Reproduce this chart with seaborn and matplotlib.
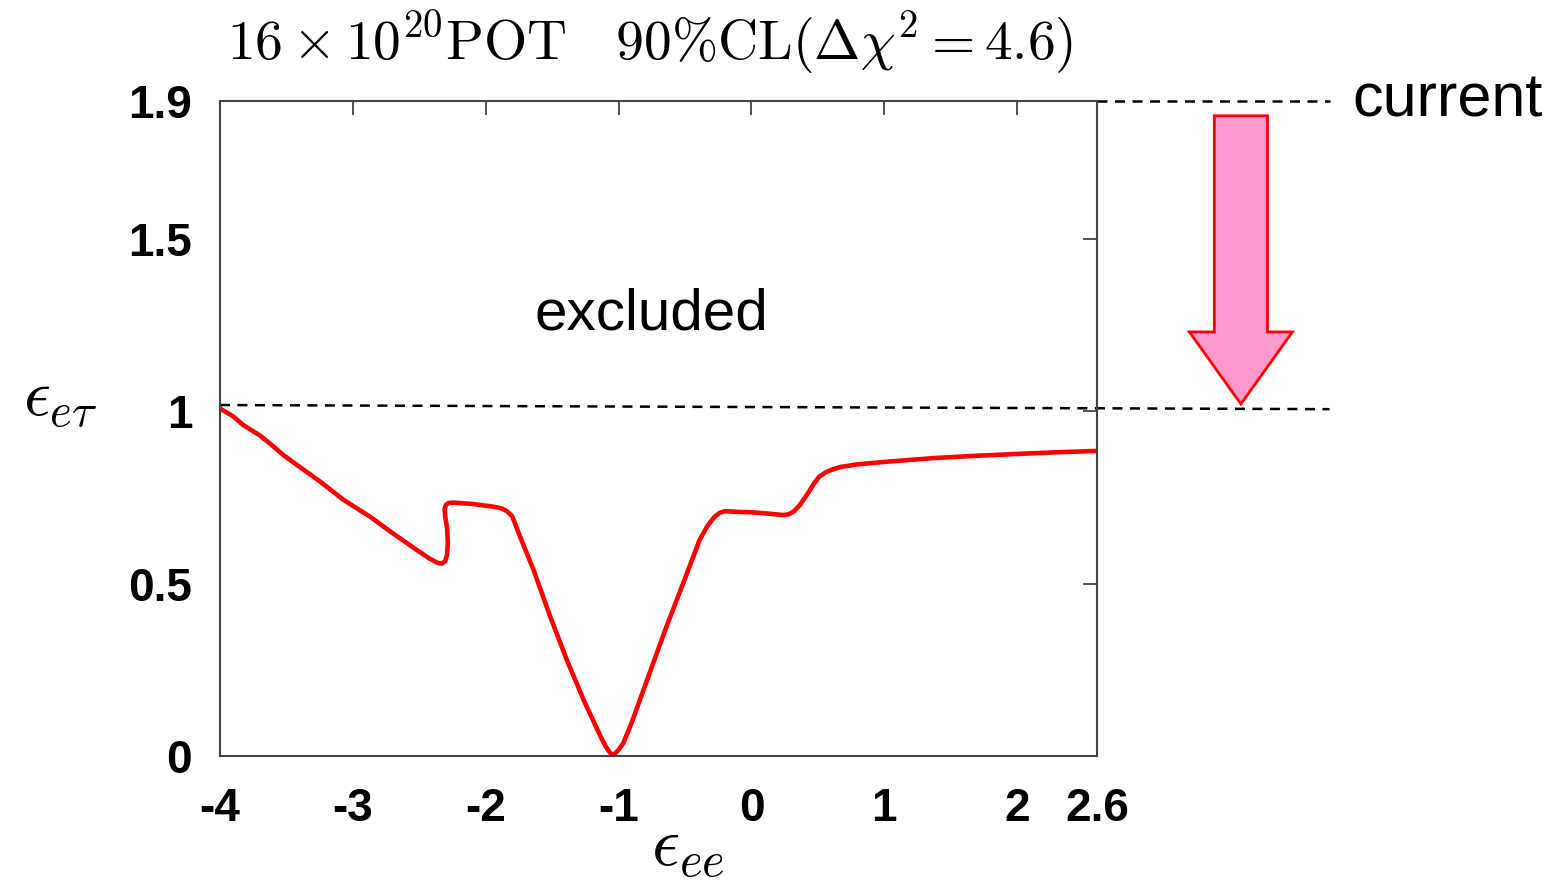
import matplotlib
matplotlib.use("Agg")
import matplotlib.pyplot as plt
import matplotlib.patches as mpatches
import seaborn as sns
import pandas as pd

# Contour (90% CL), in plotting order (the hook near -2.3 runs backwards)
eps_ee = [-4.0, -3.90, -3.825, -3.70, -3.61, -3.52, -3.42, -3.26, -3.16, -3.07,
          -2.87, -2.70, -2.52, -2.42, -2.36, -2.33, -2.305, -2.29, -2.285, -2.29,
          -2.305, -2.31, -2.30, -2.28, -2.24, -2.10, -1.94, -1.88, -1.84, -1.80,
          -1.73, -1.64, -1.52, -1.39, -1.26, -1.14, -1.10, -1.07, -1.05, -1.03,
          -1.00, -0.965, -0.90, -0.80, -0.64, -0.50, -0.39, -0.33, -0.28, -0.24,
          -0.20, -0.10, 0.0, 0.10, 0.18, 0.24, 0.28, 0.32, 0.364, 0.43,
          0.47, 0.51, 0.56, 0.61, 0.665, 0.80, 1.0, 1.367, 1.70, 1.995,
          2.30, 2.6]
eps_et = [1.008, 0.985, 0.960, 0.930, 0.902, 0.872, 0.844, 0.800, 0.770, 0.743,
          0.694, 0.646, 0.598, 0.572, 0.560, 0.558, 0.565, 0.585, 0.620, 0.660,
          0.695, 0.715, 0.728, 0.734, 0.735, 0.731, 0.723, 0.718, 0.710, 0.695,
          0.625, 0.540, 0.410, 0.279, 0.160, 0.060, 0.030, 0.012, 0.004, 0.006,
          0.018, 0.037, 0.098, 0.205, 0.375, 0.515, 0.627, 0.668, 0.693, 0.705,
          0.710, 0.708, 0.707, 0.704, 0.701, 0.699, 0.701, 0.710, 0.728, 0.765,
          0.790, 0.810, 0.823, 0.831, 0.838, 0.846, 0.853, 0.864, 0.871, 0.876,
          0.881, 0.885]

x_ticks = [-4, -3, -2, -1, 0, 1, 2, 2.6]
x_ticklabels = ["-4", "-3", "-2", "-1", "0", "1", "2", "2.6"]
y_ticks = [0, 0.5, 1, 1.5, 1.9]
y_ticklabels = ["0", "0.5", "1", "1.5", "1.9"]

current_bound = 1.9
future_bound = [1.018, 1.006]   # slightly tilted dashed line
line_right = 4.35

df = pd.DataFrame({"eps_ee": eps_ee, "eps_et": eps_et})

sns.set_theme(style="white")
plt.rcParams['font.family'] = ['Liberation Sans', 'DejaVu Sans']
plt.rcParams['mathtext.fontset'] = 'cm'
plt.rcParams['text.color'] = 'black'

fig = plt.figure(figsize=(15.62, 8.81), dpi=100)
ax = fig.add_axes([0.1408, 0.1419, 0.5615, 0.7435])

sns.lineplot(data=df, x="eps_ee", y="eps_et", sort=False, estimator=None,
             color="red", lw=3.3, ax=ax)

ax.set_xlim(-4, 2.6)
ax.set_ylim(0, 1.9)
ax.set_xticks(x_ticks)
ax.set_xticklabels(x_ticklabels, fontsize=33, fontweight="bold", color="black")
ax.set_yticks(y_ticks)
ax.set_yticklabels(y_ticklabels, fontsize=33, fontweight="bold", color="black")
ax.tick_params(direction="in", length=10, width=1.2, top=True, right=True,
               color="#333333")
ax.tick_params(axis="x", pad=22)
ax.tick_params(axis="y", pad=20)
for sp in ax.spines.values():
    sp.set_visible(True)
    sp.set_color("#444444")
    sp.set_linewidth(1.5)

ax.set_xlabel(r"$\epsilon_{ee}$", fontsize=50, color="black", va="center")
ax.set_ylabel(r"$\epsilon_{e\tau}$", fontsize=48, rotation=0, color="black",
              va="center", ha="center")
ax.xaxis.set_label_coords(0.534, -0.142)
ax.yaxis.set_label_coords(-0.182, 0.545)

# dashed bound lines (extend outside the frame)
ax.plot([-4, line_right], future_bound, ls=(0, (4, 3)), color="black", lw=1.8, clip_on=False)
ax.plot([2.6, line_right], [current_bound, current_bound], ls=(0, (4, 3)), color="black",
        lw=1.8, clip_on=False)

# arrow from current bound down to future bound
arrow = mpatches.FancyArrow(3.683, 1.857, 0, -(1.857 - 1.021), width=0.40,
                            head_width=0.775, head_length=0.209,
                            length_includes_head=True, facecolor="#ff99cc",
                            edgecolor="red", lw=2, clip_on=False)
ax.add_patch(arrow)

ax.text(-0.75, 1.28, "excluded", fontsize=42, ha="center", va="center")
ax.text(line_right + 0.17, 1.9, "current", fontsize=44, ha="left", va="center")

fig.text(650 / 1562, 1 - 43 / 881,
         r"$16\times10^{20}\mathrm{POT}\quad 90\%\mathrm{CL}(\Delta\chi^2=4.6)$",
         fontsize=40, ha="center", va="center")

fig.savefig("out.png", dpi=100)
